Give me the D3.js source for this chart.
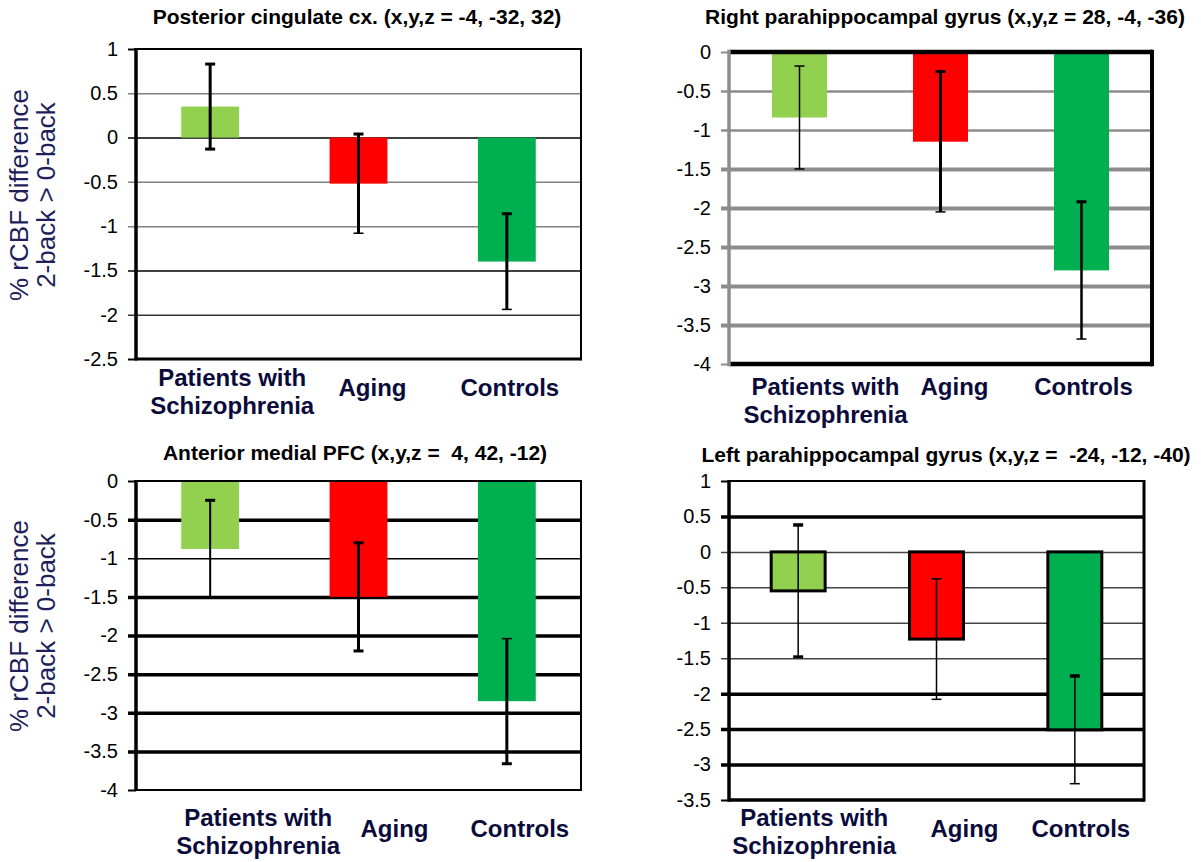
<!DOCTYPE html>
<html>
<head>
<meta charset="utf-8">
<script src="https://cdn.jsdelivr.net/npm/d3@7"></script>
<style>
  body { margin: 0; background: #fff; }
  text { font-family: "Liberation Sans", Arial, sans-serif; white-space: pre; }
</style>
</head>
<body>
<script>
// groups (same order in every panel)
const categories = ["Patients with\nSchizophrenia", "Aging", "Controls"];
const barColors = ["#92d050", "#ff0000", "#00b050"];

// Posterior cingulate cx.
const pccMeans = [0.35, -0.52, -1.40];
const pccErrors = [0.48, 0.56, 0.54];
const pccTicks = [1, 0.5, 0, -0.5, -1, -1.5, -2, -2.5];

// Right parahippocampal gyrus
const rphMeans = [-0.84, -1.15, -2.80];
const rphErrors = [0.66, 0.90, 0.88];
const rphTicks = [0, -0.5, -1, -1.5, -2, -2.5, -3, -3.5, -4];

// Anterior medial PFC
const ampfcMeans = [-0.88, -1.50, -2.85];
const ampfcErrors = [0.63, 0.70, 0.81];
const ampfcTicks = [0, -0.5, -1, -1.5, -2, -2.5, -3, -3.5, -4];

// Left parahippocampal gyrus
const lphMeans = [-0.55, -1.23, -2.51];
const lphErrors = [0.93, 0.85, 0.76];
const lphTicks = [1, 0.5, 0, -0.5, -1, -1.5, -2, -2.5, -3, -3.5];

const yTitle = ["% rCBF difference", "2-back > 0-back"];

const svg = d3.select("body").append("svg")
  .attr("width", 1201)
  .attr("height", 862);

const panels = [
  {
    title: "Posterior cingulate cx. (x,y,z = -4, -32, 32)", titleX: 357, titleY: 24,
    means: pccMeans, errors: pccErrors, ticks: pccTicks,
    x0: 136, x1: 581, y0: 49, y1: 359,
    gridColor: ["#000", "#808080", "#000", "#808080", "#808080", "#000", "#333", "#000"],
    gridWidth: [2, 1.5, 1.5, 1.5, 1.5, 1.5, 1.5, 3],
    axisColor: "#000", leftW: 3.5, rightW: 2, topW: 2, bottomW: 3,
    errW: [[3, 3, 3], [3, 3, 1.5], [3, 3, 1.5]],
    labelDx: [22, 14, 3], labelDy: [27, 37, 37],
    yTitleY: 195
  },
  {
    title: "Right parahippocampal gyrus (x,y,z = 28, -4, -36)", titleX: 945, titleY: 24,
    means: rphMeans, errors: rphErrors, ticks: rphTicks,
    x0: 729, x1: 1152, y0: 52, y1: 364,
    gridColor: ["#000", "#8c8c8c", "#8c8c8c", "#8c8c8c", "#8c8c8c", "#8c8c8c", "#8c8c8c", "#8c8c8c", "#111"],
    gridWidth: [4, 2.5, 2.5, 4, 4, 4, 4, 4, 4],
    axisColor: "#8c8c8c", leftW: 3.5, rightW: 4, topW: 4.5, bottomW: 4.5,
    errW: [[1.5, 1.5, 1.5], [3, 3, 1.5], [2.5, 3, 1.5]],
    labelDx: [26, 14, 2], labelDy: [31, 31, 31],
    yTitleY: null
  },
  {
    title: "Anterior medial PFC (x,y,z =  4, 42, -12)", titleX: 355, titleY: 460,
    means: ampfcMeans, errors: ampfcErrors, ticks: ampfcTicks,
    x0: 136, x1: 581, y0: 481, y1: 790,
    gridColor: ["#000", "#000", "#000", "#000", "#000", "#000", "#000", "#000", "#000"],
    gridWidth: [2, 3.5, 1.5, 3.5, 3.5, 3.5, 3.5, 3.5, 2],
    axisColor: "#000", leftW: 3.5, rightW: 2, topW: 2, bottomW: 2,
    errW: [[2, 3, 1.5], [3, 3, 3], [3, 1.5, 3]],
    labelDx: [48, 36, 13], labelDy: [36, 47, 47],
    yTitleY: 626
  },
  {
    title: "Left parahippocampal gyrus (x,y,z =  -24, -12, -40)", titleX: 946, titleY: 462,
    means: lphMeans, errors: lphErrors, ticks: lphTicks,
    x0: 729, x1: 1144, y0: 481, y1: 800,
    gridColor: ["#000", "#000", "#444", "#444", "#444", "#444", "#000", "#000", "#000", "#000"],
    gridWidth: [2, 3.5, 1.5, 1.5, 1.5, 1.5, 3.5, 3.5, 3.5, 3.5],
    axisColor: "#000", leftW: 3.5, rightW: 3, topW: 2, bottomW: 3.5,
    errW: [[1.5, 3.5, 3], [1.5, 1.5, 1.5], [1.5, 3.5, 1.5]],
    labelDx: [16, 28, 6], labelDy: [26, 37, 37],
    yTitleY: null,
    barStroke: "#000"
  }
];

panels.forEach(drawPanel);

function drawPanel(p) {
  const g = svg.append("g");

  const y = d3.scaleLinear()
    .domain([p.ticks[0], p.ticks[p.ticks.length - 1]])
    .range([p.y0, p.y1]);

  const x = d3.scaleBand()
    .domain(categories)
    .range([p.x0, p.x1])
    .paddingInner(0.61)
    .paddingOuter(0.305);

  // title
  g.append("text")
    .attr("x", p.titleX)
    .attr("y", p.titleY)
    .attr("text-anchor", "middle")
    .style("font-size", "21px")
    .style("font-weight", "bold")
    .text(p.title);

  // y axis with gridlines
  const axis = g.append("g")
    .attr("transform", "translate(" + p.x0 + ",0)")
    .call(d3.axisLeft(y)
      .tickValues(p.ticks)
      .tickSizeInner(-(p.x1 - p.x0))
      .tickSizeOuter(0)
      .tickPadding(18)
      .tickFormat(d => String(d)));
  axis.select(".domain").remove();
  axis.selectAll(".tick line")
    .attr("x1", -8)
    .attr("stroke", (d, i) => (i === 0 || i === p.ticks.length - 1) ? p.axisColor : p.gridColor[i])
    .attr("stroke-width", (d, i) => (i === 0 || i === p.ticks.length - 1) ? 2 : p.gridWidth[i])
    .attr("x2", (d, i) => (i === 0 || i === p.ticks.length - 1) ? 0 : p.x1 - p.x0);
  axis.selectAll(".tick text")
    .attr("fill", "#000")
    .style("font-size", "20px")
    .style("font-family", "'Liberation Sans', Arial, sans-serif");

  // bars
  g.selectAll("rect.bar")
    .data(p.means)
    .enter()
    .append("rect")
    .attr("class", "bar")
    .attr("x", (d, i) => x(categories[i]))
    .attr("y", d => y(Math.max(0, d)))
    .attr("width", x.bandwidth())
    .attr("height", d => Math.abs(y(d) - y(0)))
    .attr("fill", (d, i) => barColors[i])
    .attr("stroke", p.barStroke || "none")
    .attr("stroke-width", p.barStroke ? 3 : 0);

  // frame
  g.append("line").attr("x1", p.x0).attr("x2", p.x1).attr("y1", p.y0).attr("y2", p.y0)
    .attr("stroke", "#000").attr("stroke-width", p.topW);
  g.append("line").attr("x1", p.x0).attr("x2", p.x1).attr("y1", p.y1).attr("y2", p.y1)
    .attr("stroke", "#000").attr("stroke-width", p.bottomW);
  g.append("line").attr("x1", p.x1).attr("x2", p.x1).attr("y1", p.y0 - p.topW / 2).attr("y2", p.y1 + p.bottomW / 2)
    .attr("stroke", "#000").attr("stroke-width", p.rightW);
  g.append("line").attr("x1", p.x0).attr("x2", p.x0).attr("y1", p.y0 - p.topW / 2).attr("y2", p.y1 + p.bottomW / 2)
    .attr("stroke", p.axisColor).attr("stroke-width", p.leftW);

  // error bars
  const cx = i => x(categories[i]) + x.bandwidth() / 2;
  const eb = g.selectAll("g.err")
    .data(p.means)
    .enter()
    .append("g")
    .attr("class", "err");
  eb.append("line")
    .attr("x1", (d, i) => cx(i)).attr("x2", (d, i) => cx(i))
    .attr("y1", (d, i) => y(d + p.errors[i]))
    .attr("y2", (d, i) => y(d - p.errors[i]))
    .attr("stroke", "#000")
    .attr("stroke-width", (d, i) => p.errW[i][0]);
  eb.append("line")
    .attr("x1", (d, i) => cx(i) - 5).attr("x2", (d, i) => cx(i) + 5)
    .attr("y1", (d, i) => y(d + p.errors[i]))
    .attr("y2", (d, i) => y(d + p.errors[i]))
    .attr("stroke", "#000")
    .attr("stroke-width", (d, i) => p.errW[i][1]);
  eb.append("line")
    .attr("x1", (d, i) => cx(i) - 5).attr("x2", (d, i) => cx(i) + 5)
    .attr("y1", (d, i) => y(d - p.errors[i]))
    .attr("y2", (d, i) => y(d - p.errors[i]))
    .attr("stroke", "#000")
    .attr("stroke-width", (d, i) => p.errW[i][2]);

  // category labels
  categories.forEach((c, i) => {
    const t = g.append("text")
      .attr("text-anchor", "middle")
      .attr("fill", "#0b0b3b")
      .style("font-size", "24px")
      .style("font-weight", "bold");
    c.split("\n").forEach((line, k) => {
      t.append("tspan")
        .attr("x", cx(i) + p.labelDx[i])
        .attr("y", p.y1 + p.labelDy[i] + k * 28)
        .text(line);
    });
  });

  // y axis title
  if (p.yTitleY) {
    yTitle.forEach((line, k) => {
      g.append("text")
        .attr("transform", "translate(" + (19 + k * 27) + "," + p.yTitleY + ") rotate(-90)")
        .attr("text-anchor", "middle")
        .attr("dominant-baseline", "central")
        .attr("fill", "#1f1f5c")
        .style("font-size", "26px")
        .text(line);
    });
  }
}
</script>
</body>
</html>
